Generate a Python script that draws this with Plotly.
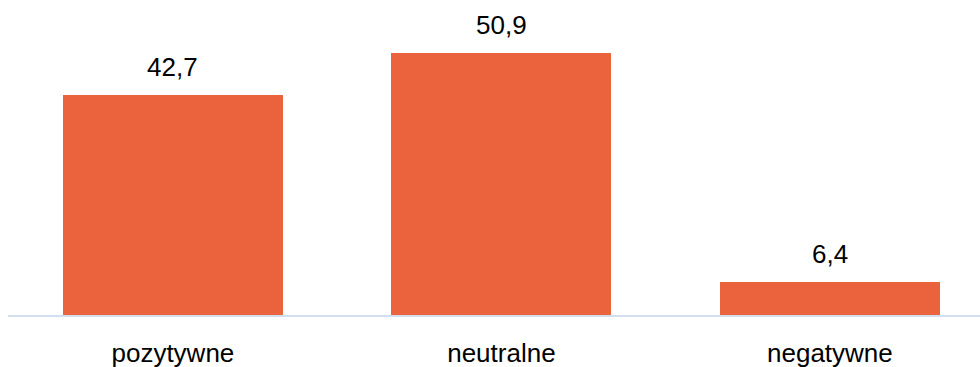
import plotly.graph_objects as go

categories = ["pozytywne", "neutralne", "negatywne"]
values = [42.7, 50.9, 6.4]

BAR_COLOR = "#EA633D"
FONT = "Liberation Sans Narrow, Arial Narrow, Liberation Sans, Arial, sans-serif"
FSIZE = 26

fig = go.Figure()
fig.add_trace(go.Bar(
    x=list(range(len(categories))),
    y=values,
    marker=dict(color=BAR_COLOR, line=dict(width=0)),
    width=0.67,
    hoverinfo="skip",
))

annotations = []
for i, v in enumerate(values):
    annotations.append(dict(
        x=i, y=v, xref="x", yref="y",
        text=f"{v:.1f}".replace(".", ","),
        showarrow=False, yanchor="bottom", yshift=11,
        font=dict(family=FONT, size=FSIZE, color="#000000"),
    ))

fig.update_layout(
    width=980, height=367,
    margin=dict(l=8, r=0, t=0, b=52),
    paper_bgcolor="white", plot_bgcolor="white",
    showlegend=False,
    bargap=0,
    annotations=annotations,
    font=dict(family=FONT, size=FSIZE, color="#000000"),
)
fig.update_xaxes(
    range=[-0.502, 2.457],
    tickmode="array", tickvals=list(range(len(categories))), ticktext=categories,
    showline=True, linecolor="#D3DFEE", linewidth=2,
    showgrid=False, zeroline=False, ticks="",
    ticklabelstandoff=14,
    tickfont=dict(family=FONT, size=FSIZE, color="#000000"),
)
fig.update_yaxes(
    range=[0, 61.1], visible=False, showgrid=False, zeroline=False,
)

fig.write_html("out.html")
